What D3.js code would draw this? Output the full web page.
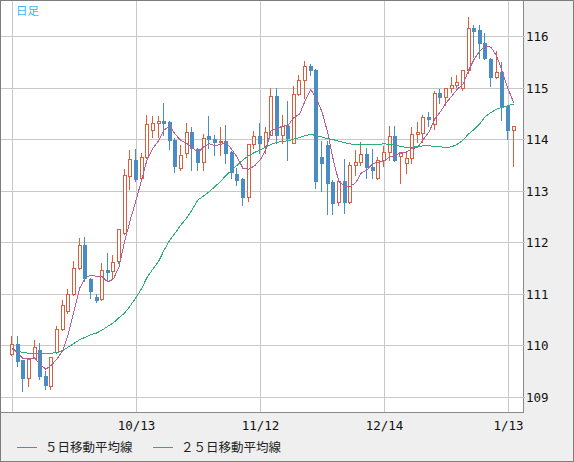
<!DOCTYPE html>
<html>
<head>
<meta charset="utf-8">
<script src="https://cdn.jsdelivr.net/npm/d3@7"></script>
<style>
  body { margin: 0; background: #fff; }
  svg { display: block; }
</style>
</head>
<body>
<svg id="mainsvg" width="574" height="462"></svg>
<script>
// daily candles 2021/9/13 - 2022/1/14
const dates = [
  "9/13","9/14","9/15","9/16","9/17","9/20","9/21","9/22","9/23","9/24",
  "9/27","9/28","9/29","9/30","10/1","10/4","10/5","10/6","10/7","10/8",
  "10/11","10/12","10/13","10/14","10/15","10/18","10/19","10/20","10/21","10/22",
  "10/25","10/26","10/27","10/28","10/29","11/1","11/2","11/3","11/4","11/5",
  "11/8","11/9","11/10","11/11","11/12","11/15","11/16","11/17","11/18","11/19",
  "11/22","11/23","11/24","11/25","11/26","11/29","11/30","12/1","12/2","12/3",
  "12/6","12/7","12/8","12/9","12/10","12/13","12/14","12/15","12/16","12/17",
  "12/20","12/21","12/22","12/23","12/24","12/27","12/28","12/29","12/30","12/31",
  "1/3","1/4","1/5","1/6","1/7","1/10","1/11","1/12","1/13","1/14"
];
const open = [
  109.84,110.02,109.71,109.37,109.76,109.92,109.40,109.21,109.87,110.31,
  110.66,110.99,111.50,111.95,111.29,110.93,110.90,111.47,111.44,111.63,
  112.18,113.29,113.60,113.24,113.66,114.18,114.31,114.35,114.33,113.99,
  113.44,113.73,114.14,113.80,113.55,114.06,114.00,113.94,113.97,113.75,
  113.33,113.23,112.87,113.90,114.06,113.86,114.08,114.84,114.08,114.26,
  113.92,114.87,115.15,115.41,115.34,113.66,113.89,113.16,112.79,113.19,
  112.79,113.50,113.56,113.71,113.46,113.24,113.60,113.75,114.06,113.68,
  113.54,113.63,114.10,114.12,114.43,114.30,114.89,114.81,114.99,115.05,
  114.99,115.35,116.15,116.12,115.87,115.55,115.20,115.31,114.64,114.18
];
const high = [
  110.18,110.18,109.71,109.75,110.11,110.05,109.50,109.77,110.37,110.89,
  111.10,111.63,112.08,112.10,111.31,111.00,111.60,111.80,111.75,112.26,
  113.42,113.79,113.81,113.73,114.47,114.45,114.44,114.70,114.35,114.03,
  113.88,114.31,114.24,113.82,114.10,114.45,114.08,114.23,114.28,113.77,
  113.44,113.25,113.90,114.16,114.31,114.24,114.99,114.99,114.47,114.73,
  115.03,115.25,115.52,115.46,115.36,113.97,113.97,113.21,113.24,113.62,
  113.55,113.79,113.95,113.83,113.81,113.65,113.87,114.26,114.26,113.73,
  113.76,114.24,114.34,114.47,114.52,114.93,114.97,114.99,115.20,115.25,
  115.35,116.36,116.21,116.21,116.05,115.57,115.70,115.50,114.66,114.26
];
const low = [
  109.82,109.60,109.11,109.21,109.76,109.34,109.16,109.15,109.85,110.29,
  110.63,110.97,111.48,111.25,110.92,110.84,110.88,111.27,111.28,111.60,
  112.16,113.03,113.18,113.18,113.64,114.05,114.05,114.08,113.80,113.37,
  113.40,113.66,113.41,113.41,113.41,113.83,113.70,113.70,113.54,113.24,
  113.12,112.73,112.80,113.83,113.74,113.74,114.08,113.92,113.92,113.60,
  113.92,114.85,114.80,115.24,113.05,113.00,112.55,112.55,112.73,112.57,
  112.77,113.30,113.50,113.25,113.25,113.22,113.48,113.60,113.57,113.15,
  113.35,113.54,113.95,113.95,114.25,114.20,114.71,114.66,114.92,115.01,
  114.95,115.28,115.60,115.57,115.55,115.03,115.18,114.37,114.00,113.48
];
const close = [
  110.02,109.69,109.37,109.73,109.97,109.40,109.23,109.77,110.31,110.79,
  110.99,111.50,111.95,111.31,111.05,110.89,111.47,111.42,111.62,112.26,
  113.31,113.61,113.23,113.65,114.29,114.31,114.35,114.32,113.99,113.47,
  113.70,114.14,113.83,113.55,114.02,114.00,113.94,113.97,113.73,113.37,
  113.21,112.87,113.90,114.06,113.92,114.14,114.84,114.08,114.26,114.03,
  114.87,115.15,115.41,115.34,113.19,113.54,113.15,112.77,113.19,112.79,
  113.50,113.56,113.71,113.46,113.40,113.60,113.75,114.06,113.60,113.73,
  113.63,114.10,114.13,114.43,114.40,114.89,114.81,114.99,115.05,115.10,
  115.35,116.15,116.10,115.86,115.57,115.20,115.31,114.63,114.17,114.26
];
// moving averages
const ma5 = [
  109.95,109.86,109.74,109.74,109.76,109.63,109.54,109.62,109.74,109.90,
  110.22,110.67,111.11,111.31,111.36,111.34,111.33,111.23,111.29,111.53,
  112.02,112.44,112.81,113.21,113.62,113.82,113.97,114.18,114.25,114.09,
  113.97,113.92,113.83,113.74,113.85,113.91,113.87,113.90,113.93,113.80,
  113.64,113.43,113.42,113.48,113.59,113.78,114.17,114.21,114.25,114.27,
  114.42,114.48,114.74,114.96,114.79,114.53,114.13,113.60,113.17,113.09,
  113.08,113.16,113.35,113.40,113.53,113.55,113.58,113.65,113.68,113.75,
  113.75,113.82,113.84,114.00,114.14,114.39,114.53,114.70,114.83,114.97,
  115.06,115.33,115.55,115.71,115.81,115.78,115.61,115.31,114.98,114.71
];
const ma25 = [
  109.92,109.89,109.86,109.85,109.84,109.84,109.84,109.85,109.86,109.90,
  109.97,110.04,110.11,110.16,110.21,110.24,110.30,110.37,110.44,110.54,
  110.63,110.77,110.93,111.10,111.33,111.48,111.63,111.85,112.04,112.19,
  112.34,112.47,112.64,112.82,112.90,112.98,113.08,113.18,113.30,113.40,
  113.50,113.60,113.68,113.74,113.79,113.84,113.90,113.94,113.95,113.97,
  114.00,114.03,114.07,114.09,114.07,114.04,114.01,113.99,113.96,113.93,
  113.91,113.89,113.89,113.89,113.89,113.90,113.91,113.90,113.88,113.86,
  113.84,113.84,113.86,113.87,113.87,113.86,113.85,113.84,113.85,113.90,
  113.98,114.10,114.19,114.30,114.44,114.52,114.58,114.62,114.65,114.68
];
const yTicks = [109, 110, 111, 112, 113, 114, 115, 116];
const gridDates = ["9/13", "10/13", "11/12", "12/14", "1/13"];
const xTickLabels = ["10/13", "11/12", "12/14", "1/13"];
const legendNames = ["５日移動平均線", "２５日移動平均線"];

const svg = d3.select('#mainsvg')
const width = +svg.attr('width')
const height = +svg.attr('height')
const plot = { left: 1, top: 1, right: 523, bottom: 412 }

const upColor = '#d9603c', downColor = '#4a8cc4'
const ma5Color = '#b65f95', ma25Color = '#2ab074'

// backgrounds and frames
svg.append('rect').attr('x', 0.5).attr('y', 0.5).attr('width', width - 1).attr('height', height - 1)
  .attr('fill', '#efefef').attr('stroke', '#7d7d7d')
svg.append('rect').attr('x', plot.left).attr('y', plot.top)
  .attr('width', plot.right - plot.left).attr('height', plot.bottom - plot.top).attr('fill', '#fff')

const x = d3.scalePoint().domain(dates).range([12, 12 + 89 * 124 / 22])
const y = d3.scaleLinear().domain([109, 116]).range([397, 36])
const px = v => Math.round(v) + 0.5

const grid = svg.append('g').attr('shape-rendering', 'crispEdges')
grid.selectAll('.hg').data(yTicks).join('line').attr('class', 'hg')
  .attr('x1', plot.left).attr('x2', plot.right)
  .attr('y1', d => px(y(d))).attr('y2', d => px(y(d)))
  .attr('stroke', '#c8c8c8')
grid.selectAll('.vg').data(gridDates).join('line').attr('class', 'vg')
  .attr('x1', d => px(x(d))).attr('x2', d => px(x(d)))
  .attr('y1', plot.top).attr('y2', plot.bottom)
  .attr('stroke', '#c8c8c8')

// plot border right / bottom
svg.append('path')
  .attr('d', `M${plot.right + 0.5},0.5V${plot.bottom + 0.5}H0.5`)
  .attr('fill', 'none').attr('stroke', '#8a8a8a').attr('shape-rendering', 'crispEdges')

// y axis labels on the right
const yAxis = svg.append('g').attr('transform', `translate(${plot.right},0)`)
  .call(d3.axisRight(y).tickValues(yTicks).tickSize(2).tickPadding(1).tickFormat(d3.format('d')))
yAxis.select('.domain').remove()
yAxis.selectAll('.tick').attr('transform', d => `translate(0,${px(y(d))})`)
yAxis.selectAll('line').attr('stroke', '#c8c8c8').attr('shape-rendering', 'crispEdges')
yAxis.selectAll('text').attr('font-family', 'DejaVu Sans Mono').attr('font-size', 12.5).attr('fill', '#111')

// x axis labels
const xAxis = svg.append('g').attr('transform', `translate(0,${plot.bottom})`)
  .call(d3.axisBottom(x).tickValues(xTickLabels).tickSize(0).tickPadding(9))
xAxis.select('.domain').remove()
xAxis.selectAll('text').attr('font-family', 'DejaVu Sans Mono').attr('font-size', 12.5).attr('fill', '#111')

// candles
const candles = dates.map((d, i) => ({ d, o: open[i], h: high[i], l: low[i], c: close[i] }))
const cg = svg.append('g').attr('shape-rendering', 'crispEdges')
cg.selectAll('.wick').data(candles).join('line').attr('class', 'wick')
  .attr('x1', d => Math.round(x(d.d)) - 0.5).attr('x2', d => Math.round(x(d.d)) - 0.5)
  .attr('y1', d => Math.round(y(d.h))).attr('y2', d => Math.round(y(d.l)) + 1)
  .attr('stroke', d => d.c >= d.o ? upColor : downColor)
cg.selectAll('.body').data(candles).join('rect').attr('class', 'body')
  .each(function (d) {
    const cx = Math.round(x(d.d))
    const top = Math.round(y(Math.max(d.o, d.c)))
    const bot = Math.round(y(Math.min(d.o, d.c)))
    const r = d3.select(this)
    if (d.c >= d.o) {
      r.attr('x', cx - 1.5).attr('y', top + 0.5).attr('width', 3).attr('height', Math.max(1, bot - top))
        .attr('fill', '#fff').attr('stroke', upColor)
    } else {
      r.attr('x', cx - 2).attr('y', top).attr('width', 4).attr('height', Math.max(1, bot - top + 1))
        .attr('fill', downColor)
    }
  })

// moving averages
const line = d3.line().x((d, i) => x(dates[i])).y(d => y(d))
svg.append('path').attr('d', line(ma25)).attr('fill', 'none').attr('stroke', ma25Color)
  .attr('stroke-width', 1).attr('shape-rendering', 'crispEdges')
svg.append('path').attr('d', line(ma5)).attr('fill', 'none').attr('stroke', ma5Color)
  .attr('stroke-width', 1).attr('shape-rendering', 'crispEdges')

// title
svg.append('text').attr('x', 16).attr('y', 15).text('日足')
  .attr('font-family', 'Noto Sans CJK JP').attr('font-size', 11.5).attr('fill', '#3cb6e8')

// legend
const legend = svg.append('g').selectAll('g').data(legendNames).join('g')
  .attr('transform', (d, i) => `translate(${i ? 153 : 17},447.5)`)
legend.append('line').attr('x1', 0).attr('x2', 20)
  .attr('stroke', (d, i) => i ? ma25Color : ma5Color).attr('shape-rendering', 'crispEdges')
legend.append('text').attr('x', 28).attr('y', 4.5).text(d => d)
  .attr('font-family', 'Noto Sans CJK JP').attr('font-size', 12.5).attr('fill', '#222')
</script>
</body>
</html>
